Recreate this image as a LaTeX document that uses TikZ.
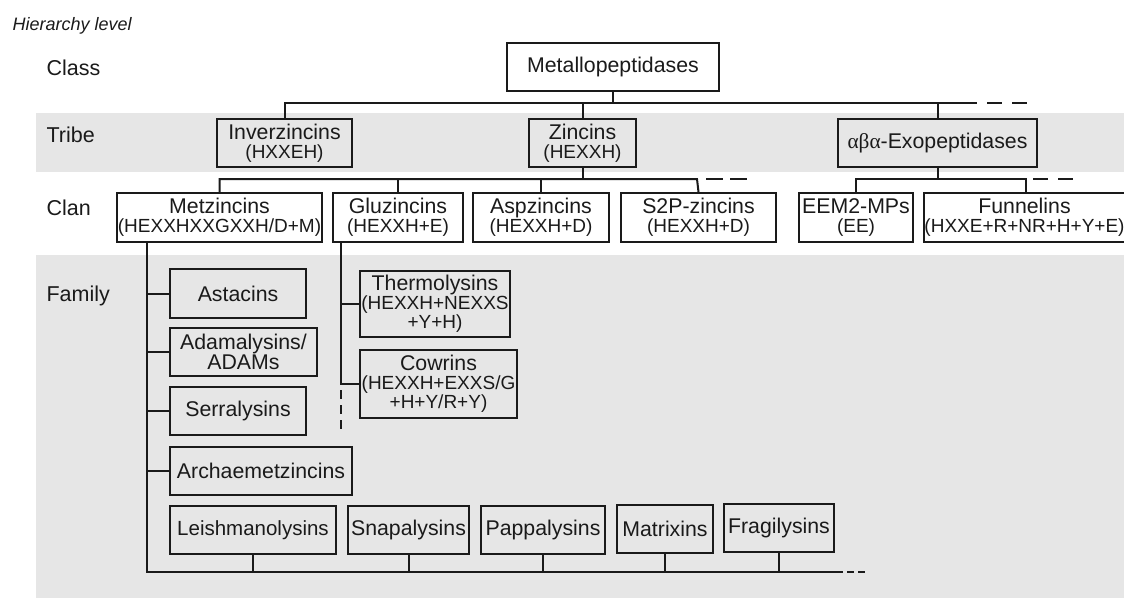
\documentclass[tikz,border=0pt]{standalone}
\usepackage{fontspec}
\setmainfont{Liberation Sans}
\newfontfamily\grk{Liberation Serif}
\usetikzlibrary{calc}
\definecolor{band}{RGB}{230,230,230}
\definecolor{ink}{RGB}{26,26,26}
\newcommand{\sbl}[1]{{\fontsize{19}{19}\selectfont #1}}
\begin{document}
\begin{tikzpicture}[x=1pt,y=-1pt,
  box/.style={draw=ink, line width=2pt, inner sep=0pt, align=center, text=ink,
              font=\fontsize{21.3}{19}\selectfont},
  conn/.style={draw=ink, line width=2pt},
  dconn/.style={draw=ink, line width=2pt, dash pattern=on 15pt off 10pt},
  lvl/.style={anchor=base west, text=ink, font=\fontsize{21.5}{24}\selectfont},
]
\useasboundingbox (0,0) rectangle (1124,598);
% bands
\fill[band] (36,113) rectangle (1124,172);
\fill[band] (36,255) rectangle (1124,598);
% level labels
\node[anchor=base west, text=ink, font=\fontsize{18}{20}\selectfont\itshape] (hl) at (9,30) {Hierarchy level};
\node[lvl] (lclass) at (43,75) {Class};
\node[lvl] (ltribe) at (43,142) {Tribe};
\node[lvl] (lclan) at (43,215) {Clan};
\node[lvl] (lfam) at (43,301) {Family};
% class
\node[box, minimum width=212pt, minimum height=48pt] (metallo) at (613,67) {Metallopeptidases};
% tribes
\node[box, minimum width=135pt, minimum height=48pt] (inver) at (284.5,143) {Inverzincins\\\sbl{(HXXEH)}};
\node[box, minimum width=107pt, minimum height=48pt] (zinc) at (582.5,143) {Zincins\\\sbl{(HEXXH)}};
\node[box, minimum width=199pt, minimum height=48pt] (exo) at (937.5,143) {{\grk αβα}-Exopeptidases};
% clans
\node[box, minimum width=205pt, minimum height=49pt] (metz) at (219.5,217.5) {Metzincins\\\sbl{(HEXXHXXGXXH/D+M)}};
\node[box, minimum width=130pt, minimum height=49pt] (gluz) at (398,217.5) {Gluzincins\\\sbl{(HEXXH+E)}};
\node[box, minimum width=136pt, minimum height=49pt] (aspz) at (541,217.5) {Aspzincins\\\sbl{(HEXXH+D)}};
\node[box, minimum width=155pt, minimum height=49pt] (s2p) at (698.5,217.5) {S2P-zincins\\\sbl{(HEXXH+D)}};
\node[box, minimum width=114pt, minimum height=49pt] (eem) at (856,217.5) {EEM2-MPs\\\sbl{(EE)}};
\node[box, minimum width=197pt, minimum height=49pt] (funn) at (1024.5,217.5) {Funnelins\\\sbl{(HXXE+R+NR+H+Y+E)}};
% families of metzincins
\node[box, minimum width=136pt, minimum height=49pt] (asta) at (238,293.5) {Astacins};
\node[box, minimum width=147pt, minimum height=48pt] (adam) at (243.5,352) {Adamalysins/\\ADAMs};
\node[box, minimum width=136pt, minimum height=48pt] (serra) at (238,411) {Serralysins};
\node[box, minimum width=182pt, minimum height=48pt] (archa) at (261,471) {Archaemetzincins};
\node[box, minimum width=166pt, minimum height=48pt, font=\fontsize{20.5}{19}\selectfont] (leish) at (253,530) {Leishmanolysins};
\node[box, minimum width=121pt, minimum height=48pt] (snap) at (408.5,530) {Snapalysins};
\node[box, minimum width=124pt, minimum height=48pt] (papp) at (543,530) {Pappalysins};
\node[box, minimum width=96pt, minimum height=48pt] (matr) at (665,529) {Matrixins};
\node[box, minimum width=110pt, minimum height=48pt] (frag) at (779,528) {Fragilysins};
% families of gluzincins
\node[box, minimum width=150pt, minimum height=66pt] (therm) at (435,304) {Thermolysins\\\sbl{(HEXXH+NEXXS}\\\sbl{+Y+H)}};
\node[box, minimum width=157pt, minimum height=68pt] (cowr) at (438.5,384) {Cowrins\\\sbl{(HEXXH+EXXS/G}\\\sbl{+H+Y/R+Y)}};
% class -> tribe bus
\coordinate (bus1end) at (977,103);
\draw[conn] (inver.north) |- (bus1end);
\draw[conn] (metallo.south) -- (metallo.south |- bus1end);
\draw[conn] (zinc.north) -- (zinc.north |- bus1end);
\draw[conn] (exo.north) -- (exo.north |- bus1end);
\draw[dconn] (bus1end) ++(10,0) -- ++(40,0);
% zincins -> clans
\coordinate (bus2end) at (697,179);
\draw[conn] (metz.north) |- (bus2end) -- (s2p.north);
\draw[conn] (zinc.south) -- (zinc.south |- bus2end);
\draw[conn] (gluz.north) -- (gluz.north |- bus2end);
\draw[conn] (aspz.north) -- (aspz.north |- bus2end);
\draw[draw=ink, line width=2pt, dash pattern=on 17pt off 7pt] (bus2end) ++(9,0) -- ++(41,0);
% exo -> clans
\coordinate (bus3end) at (1026,179);
\draw[conn] (eem.north) |- (bus3end) -- (funn.north -| bus3end);
\draw[conn] (exo.south) -- (exo.south |- bus3end);
\draw[conn, dash pattern=on 15pt off 10pt] (bus3end) ++(7,0) -- ++(41,0);
% metzincins -> families
\coordinate (mbot) at (843,572);
\coordinate (mtop) at ($(metz.south west)+(31,0)$);
\draw[conn] (mtop) |- (mbot);
\foreach \n in {asta,adam,serra,archa}
  \draw[conn] (\n.west) -- (\n.west -| mtop);
\foreach \n in {leish,snap,papp,matr,frag}
  \draw[conn] (\n.south) -- (\n.south |- mbot);
\draw[conn, dash pattern=on 7pt off 4pt] (mbot) ++(4,0) -- ++(18,0);
% gluzincins -> families
\coordinate (gtop) at ($(gluz.south west)+(9,0)$);
\draw[conn] (gtop) |- (cowr.west);
\draw[conn] (therm.west) -- (therm.west -| gtop);
\draw[conn, dash pattern=on 9pt off 6pt] (cowr.west -| gtop) ++(0,6) -- ++(0,40);
\end{tikzpicture}
\end{document}
